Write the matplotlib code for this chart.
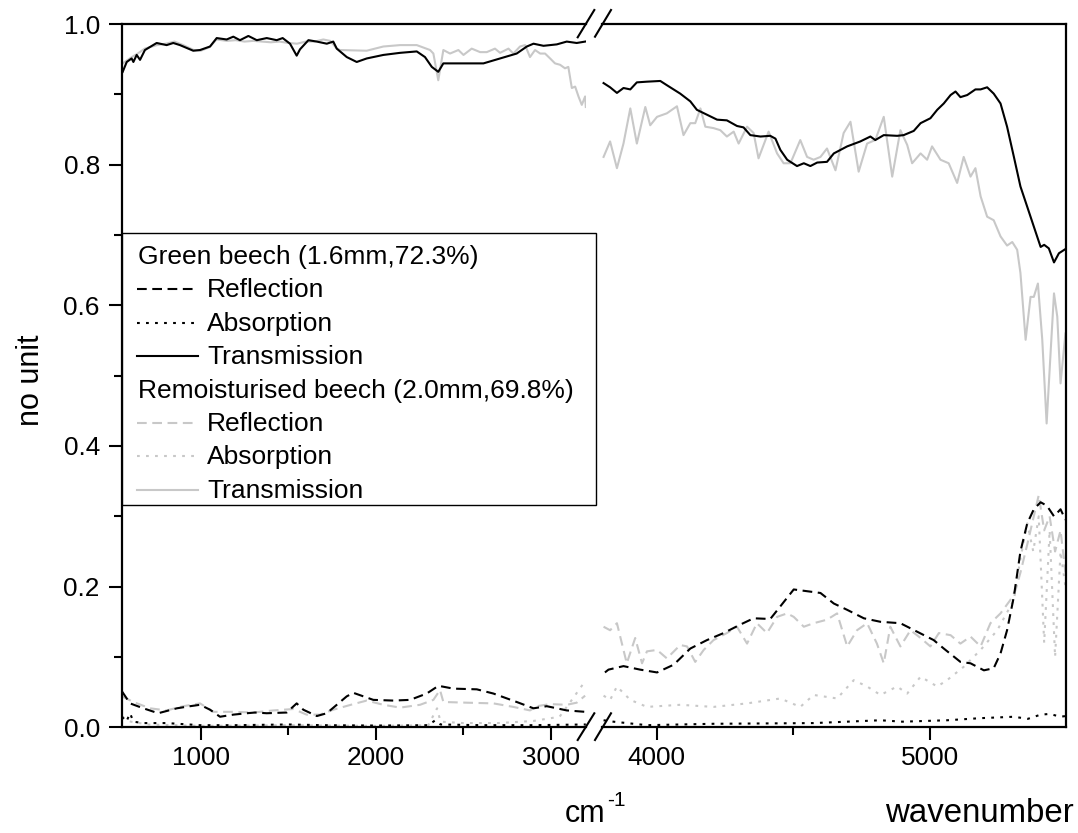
import matplotlib
matplotlib.use('Agg')
import matplotlib.pyplot as plt
from matplotlib.lines import Line2D
from matplotlib.patches import Rectangle

plt.rcParams['font.family'] = ['Liberation Sans', 'DejaVu Sans']
plt.rcParams['lines.scale_dashes'] = False

# ---------------- data ----------------
# Green beech, transmission
gT_L_x = [554, 577, 605, 615, 634, 653, 681, 748, 805, 843, 881, 957, 996, 1053, 1091, 1148, 1186, 1224,
          1272, 1320, 1377, 1434, 1468, 1510, 1548, 1567, 1615, 1663, 1720, 1757, 1777, 1834, 1891, 1948,
          2043, 2139, 2234, 2281, 2320, 2357, 2386, 2443, 2520, 2615, 2710, 2805, 2863, 2901, 2958, 3034,
          3091, 3148, 3196]
gT_L_y = [.932, .946, .951, .946, .956, .949, .963, .973, .970, .973, .970, .962, .963, .968, .980, .978, .982,
          .977, .983, .977, .980, .977, .980, .972, .955, .964, .977, .975, .972, .975, .965, .953, .946, .951,
          .956, .959, .961, .953, .939, .932, .944, .944, .944, .944, .951, .958, .968, .972, .969, .971,
          .975, .973, .975]
gT_R_x = [3805, 3829, 3854, 3878, 3903, 3927, 3964, 4013, 4037, 4086, 4123, 4147, 4184, 4221, 4257, 4294,
          4318, 4343, 4380, 4416, 4435, 4453, 4478, 4514, 4539, 4563, 4588, 4624, 4649, 4698, 4746, 4783,
          4801, 4832, 4881, 4905, 4942, 4967, 5003, 5028, 5052, 5077, 5095, 5113, 5138, 5168, 5187, 5211,
          5235, 5260, 5284, 5309, 5333, 5358, 5382, 5407, 5420, 5437, 5456, 5474, 5498]
gT_R_y = [.916, .910, .902, .909, .907, .917, .918, .919, .913, .901, .890, .878, .871, .864, .863, .855,
          .853, .842, .840, .841, .837, .821, .807, .798, .802, .798, .803, .804, .816, .826, .833, .840,
          .835, .842, .841, .842, .848, .859, .866, .878, .887, .899, .904, .896, .899, .907, .907, .910,
          .901, .887, .854, .811, .769, .740, .712, .683, .686, .681, .661, .674, .680]

# Green beech, reflection
gR_L_x = [550, 596, 672, 757, 863, 939, 996, 1053, 1110, 1186, 1263, 1310, 1377, 1491, 1548, 1586, 1663,
          1720, 1777, 1834, 1872, 1986, 2100, 2196, 2291, 2358, 2443, 2577, 2672, 2805, 2901, 2977, 3091, 3196]
gR_L_y = [.051, .034, .027, .020, .027, .030, .032, .025, .015, .018, .020, .021, .020, .021, .034, .025,
          .016, .020, .032, .044, .049, .039, .038, .039, .048, .059, .055, .054, .048, .036, .027, .030,
          .024, .022]
gR_R_x = [3810, 3823, 3878, 3939, 4001, 4062, 4123, 4184, 4245, 4306, 4355, 4416, 4453, 4502, 4600, 4649,
          4698, 4759, 4820, 4893, 4954, 5015, 5052, 5113, 5150, 5199, 5235, 5260, 5284, 5309, 5333, 5358,
          5382, 5407, 5430, 5456, 5480, 5498]
gR_R_y = [.078, .082, .087, .082, .078, .089, .112, .124, .134, .146, .155, .154, .172, .196, .191, .176,
          .167, .155, .150, .148, .136, .124, .112, .093, .091, .081, .084, .105, .138, .186, .250, .290,
          .310, .320, .315, .300, .310, .295]

# Green beech, absorption
gA_L_x = [550, 575, 596, 615, 672, 805, 996, 1200, 1500, 1700, 2000, 2300, 2340, 2370, 2600, 2900, 3200]
gA_L_y = [.015, .008, .020, .008, .006, .006, .003, .003, .004, .003, .0025, .003, .010, .004, .003, .003, .004]
gA_R_x = [3805, 3841, 3964, 4208, 4575, 4820, 4900, 5064, 5187, 5309, 5360, 5407, 5440, 5480, 5498]
gA_R_y = [.010, .008, .003, .005, .006, .010, .008, .010, .013, .015, .012, .018, .019, .015, .016]

# Remoisturised beech, transmission
rT_L_x = [554, 600, 640, 680, 750, 800, 850, 900, 960, 1000, 1050, 1090, 1150, 1200, 1250, 1300, 1350,
          1400, 1450, 1500, 1550, 1600, 1650, 1700, 1740, 1777, 1796, 1948, 2043, 2139, 2234, 2310, 2329,
          2357, 2386, 2424, 2472, 2501, 2548, 2596, 2634, 2681, 2710, 2758, 2786, 2824, 2853, 2881, 2910,
          2939, 2967, 2996, 3024, 3053, 3081, 3100, 3120, 3139, 3158, 3177, 3196, 3200]
rT_L_y = [.944, .952, .958, .965, .970, .972, .975, .970, .963, .962, .967, .978, .976, .977, .975, .976,
          .975, .974, .975, .973, .972, .975, .975, .978, .976, .965, .963, .962, .968, .970, .970, .963,
          .958, .920, .963, .958, .963, .956, .965, .960, .960, .965, .959, .965, .958, .968, .970, .953,
          .963, .958, .958, .951, .944, .942, .937, .939, .909, .911, .897, .885, .897, .882]
rT_R_x = [3805, 3829, 3854, 3878, 3903, 3927, 3958, 3976, 4001, 4037, 4074, 4098, 4123, 4141, 4160, 4178,
          4208, 4233, 4257, 4282, 4300, 4331, 4355, 4373, 4410, 4441, 4465, 4490, 4526, 4551, 4575, 4600,
          4624, 4655, 4685, 4710, 4740, 4771, 4801, 4832, 4863, 4893, 4918, 4936, 4967, 4991, 5009, 5040,
          5070, 5101, 5125, 5150, 5168, 5187, 5211, 5235, 5260, 5284, 5303, 5321, 5333, 5352, 5370, 5382,
          5397, 5413, 5429, 5444, 5456, 5468, 5480, 5498]
rT_R_y = [.811, .833, .795, .830, .880, .830, .882, .856, .868, .873, .883, .842, .859, .859, .880, .854,
          .852, .849, .840, .847, .830, .854, .845, .809, .847, .816, .802, .802, .835, .811, .807, .811,
          .823, .792, .845, .861, .790, .830, .835, .868, .783, .849, .828, .802, .816, .807, .826, .807,
          .802, .774, .811, .783, .795, .755, .726, .721, .698, .685, .690, .679, .646, .551, .612, .612,
          .631, .551, .432, .536, .617, .584, .489, .560]

# Remoisturised beech, reflection
rR_L_x = [550, 615, 710, 805, 900, 996, 1072, 1186, 1300, 1415, 1529, 1605, 1681, 1757, 1872, 1948, 2043,
          2139, 2253, 2329, 2367, 2386, 2520, 2672, 2786, 2881, 2920, 2996, 3091, 3148, 3196]
rR_L_y = [.044, .036, .027, .024, .030, .034, .022, .022, .021, .024, .026, .018, .018, .025, .033, .038,
          .032, .028, .032, .039, .053, .036, .035, .034, .029, .024, .030, .033, .032, .035, .045]
rR_R_x = [3805, 3829, 3854, 3890, 3921, 3946, 3964, 4001, 4037, 4086, 4111, 4141, 4172, 4208, 4257, 4294,
          4331, 4367, 4404, 4441, 4478, 4502, 4539, 4575, 4624, 4661, 4698, 4734, 4771, 4807, 4832, 4856,
          4893, 4930, 4967, 5003, 5034, 5077, 5113, 5150, 5187, 5223, 5260, 5296, 5315, 5333, 5358, 5382,
          5400, 5420, 5440, 5460, 5480, 5498]
rR_R_y = [.143, .138, .148, .091, .127, .091, .108, .110, .098, .117, .115, .093, .110, .124, .134, .143,
          .119, .148, .134, .157, .162, .157, .143, .148, .153, .162, .115, .138, .148, .119, .091, .143,
          .115, .138, .127, .115, .134, .131, .119, .129, .115, .148, .162, .181, .195, .220, .260, .300,
          .330, .280, .300, .250, .280, .220]

# Remoisturised beech, absorption
rA_L_x = [550, 600, 700, 1000, 1500, 2000, 2300, 2350, 2370, 2500, 2700, 2900, 3050, 3120, 3180, 3200]
rA_L_y = [.015, .008, .004, .002, .003, .002, .003, .027, .008, .006, .006, .009, .015, .039, .060, .067]
rA_R_x = [3805, 3829, 3854, 3903, 3964, 4086, 4208, 4331, 4453, 4526, 4575, 4661, 4722, 4771, 4820, 4881,
          4918, 4967, 5028, 5064, 5125, 5187, 5248, 5309, 5333, 5358, 5380, 5400, 5420, 5440, 5460, 5480,
          5498]
rA_R_y = [.045, .039, .058, .039, .029, .032, .029, .034, .041, .029, .046, .041, .067, .058, .046, .058,
          .048, .072, .058, .067, .086, .110, .138, .181, .240, .290, .250, .300, .120, .280, .100, .250,
          .200]

# tick labels / axes
x_left_lim = (550, 3201)
x_right_lim = (3800, 5500)
x_left_ticks = [1000, 2000, 3000]
x_left_minor = [1500, 2500]
x_right_ticks = [4000, 5000]
x_right_minor = [4500]
y_ticks = [0.0, 0.2, 0.4, 0.6, 0.8, 1.0]
y_minor = [0.1, 0.3, 0.5, 0.7, 0.9]

legend_header1 = "Green beech (1.6mm,72.3%)"
legend_header2 = "Remoisturised beech (2.0mm,69.8%)"
entry_labels = ["Reflection", "Absorption", "Transmission"]

# ---------------- figure ----------------
W, H = 1078, 833
fig = plt.figure(figsize=(W / 100, H / 100), dpi=100)


def fy(py):
    return 1 - py / H


TOP, BOT = 24.0, 727.3
ax1 = fig.add_axes([122 / W, 1 - BOT / H, (586 - 122) / W, (BOT - TOP) / H])
ax2 = fig.add_axes([602.2 / W, 1 - BOT / H, (1066 - 602.2) / W, (BOT - TOP) / H])

BLACK = 'black'
GRAY = '#c8c8c8'
LW = 1.5
DASH = (0, (7, 4))
DOT = (0, (2, 4.5))

series = [
    (rT_L_x, rT_L_y, rT_R_x, rT_R_y, GRAY, '-'),
    (rR_L_x, rR_L_y, rR_R_x, rR_R_y, GRAY, DASH),
    (rA_L_x, rA_L_y, rA_R_x, rA_R_y, GRAY, DOT),
    (gT_L_x, gT_L_y, gT_R_x, gT_R_y, BLACK, '-'),
    (gR_L_x, gR_L_y, gR_R_x, gR_R_y, BLACK, DASH),
    (gA_L_x, gA_L_y, gA_R_x, gA_R_y, BLACK, DOT),
]
for lx, ly, rx, ry, c, ls in series:
    ax1.plot(lx, ly, color=c, ls=ls, lw=LW)
    ax2.plot(rx, ry, color=c, ls=ls, lw=LW)

TFS = 18.8
for ax in (ax1, ax2):
    ax.set_ylim(0, 1)
    for s in ax.spines.values():
        s.set_linewidth(1.6)
    ax.tick_params(which='major', direction='out', length=9.5, width=1.5, labelsize=TFS, pad=4.0)
    ax.tick_params(which='minor', direction='out', length=5.5, width=1.5)
    ax.tick_params(axis='x', top=False, which='both')

ax1.set_xlim(*x_left_lim)
ax2.set_xlim(*x_right_lim)
ax1.set_xticks(x_left_ticks)
ax1.set_xticks(x_left_minor, minor=True)
ax2.set_xticks(x_right_ticks)
ax2.set_xticks(x_right_minor, minor=True)
ax1.set_yticks(y_ticks)
ax1.set_yticklabels([f"{v:.1f}" for v in y_ticks])
ax1.set_yticks(y_minor, minor=True)
ax1.tick_params(axis='y', which='major', pad=6.5)
ax1.spines['right'].set_visible(False)
ax2.spines['left'].set_visible(False)
ax2.tick_params(axis='y', which='both', left=False, right=False, labelleft=False)

# axis break marks
for (x0, y0, x1, y1) in [(577.7, 37.3, 594.3, 10.0), (595.0, 36.7, 611.0, 10.0),
                         (577.7, 740.0, 594.3, 713.3), (595.0, 740.0, 611.0, 713.3)]:
    fig.add_artist(Line2D([x0 / W, x1 / W], [fy(y0), fy(y1)], transform=fig.transFigure,
                          color='black', lw=1.5, zorder=10))

# legend box (manual, Origin style)
LX0, LX1, LY0, LY1 = 122, 596, 233, 505
fig.add_artist(Rectangle((LX0 / W, fy(LY1)), (LX1 - LX0) / W, (LY1 - LY0) / H,
                         transform=fig.transFigure, facecolor='white', edgecolor='black',
                         lw=1.0, zorder=8))
LFS = 19.0
base0, step = 264.0, 33.4
rows = [
    ('h', legend_header1, None, None),
    ('e', entry_labels[0], BLACK, DASH),
    ('e', entry_labels[1], BLACK, DOT),
    ('e', entry_labels[2], BLACK, '-'),
    ('h', legend_header2, None, None),
    ('e', entry_labels[0], GRAY, DASH),
    ('e', entry_labels[1], GRAY, DOT),
    ('e', entry_labels[2], GRAY, '-'),
]
for i, (kind, txt, c, ls) in enumerate(rows):
    yb = base0 + i * step
    if kind == 'h':
        fig.text(138 / W, fy(yb), txt, fontsize=LFS, ha='left', va='baseline', zorder=9)
    else:
        fig.add_artist(Line2D([137 / W, 198 / W], [fy(yb - 8), fy(yb - 8)], transform=fig.transFigure,
                              color=c, ls=ls, lw=LW, zorder=9))
        fig.text(207 / W, fy(yb), txt, fontsize=LFS, ha='left', va='baseline', zorder=9)

# axis titles
fig.text(31 / W, fy(380), 'no unit', rotation=90, fontsize=22, ha='center', va='center')
fig.text(565 / W, fy(822), 'cm', fontsize=22, ha='left', va='baseline')
fig.text(607 / W, fy(806), '-1', fontsize=15, ha='left', va='baseline')
fig.text(885 / W, fy(822), 'wavenumber', fontsize=23.8, ha='left', va='baseline')

fig.savefig('out.png', dpi=100)
